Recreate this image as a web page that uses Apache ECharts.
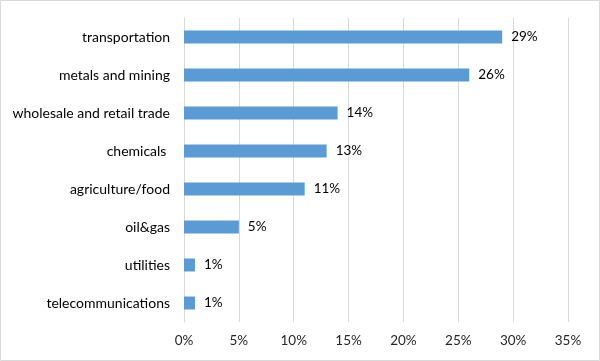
<!DOCTYPE html>
<html><head><meta charset="utf-8">
<script src="https://cdn.jsdelivr.net/npm/echarts@6/dist/echarts.min.js"></script>
<style>html,body{margin:0;padding:0;background:#fff}#c{width:600px;height:361px}</style>
</head><body><div id="c"></div>
<script>
const categories = ["transportation","metals and mining","wholesale and retail trade","chemicals ","agriculture/food","oil&gas","utilities","telecommunications"];
const values = [29,26,14,13,11,5,1,1];
const xTicks = [0,5,10,15,20,25,30,35];

const chart = echarts.init(document.getElementById('c'));
const font = 'Lato, "Open Sans", sans-serif';
chart.setOption({
  animation:false,
  graphic:[{type:'rect',shape:{x:0.5,y:0.5,width:599,height:360},style:{fill:'none',stroke:'#d9d9d9',lineWidth:1},silent:true}],
  grid:{left:184,right:32,top:18,bottom:39},
  xAxis:{type:'value',min:0,max:35,interval:5,
    axisLine:{show:false},axisTick:{show:false},
    splitLine:{lineStyle:{color:'#d9d9d9',width:1}},
    axisLabel:{formatter:v=>v+'%',color:'#262626',fontSize:13.5,fontFamily:font,margin:12}},
  yAxis:{type:'category',inverse:true,data:categories,
    axisLine:{show:true,lineStyle:{color:'#d9d9d9'}},axisTick:{show:false},
    axisLabel:{color:'#000',fontSize:14,fontFamily:font,margin:14}},
  series:[{type:'bar',data:values,barWidth:13,itemStyle:{color:'#5B9BD5'},
    label:{show:true,position:'right',distance:9,formatter:p=>p.value+'%',color:'#000',fontSize:13.5,fontFamily:font}}]
});
</script></body></html>
